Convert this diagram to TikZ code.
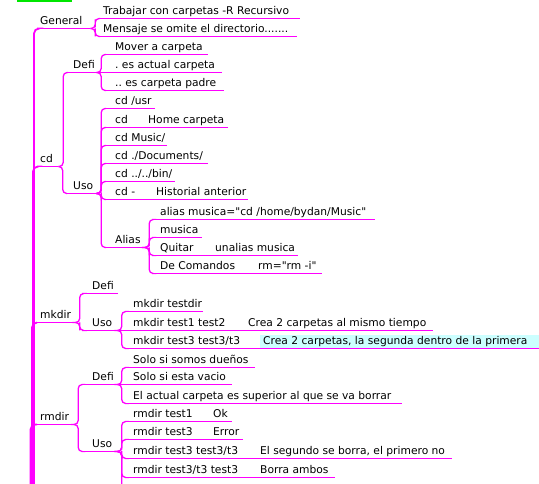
\documentclass[tikz,border=0pt]{standalone}
\usepackage{fontspec}
\setmainfont{DejaVu Sans}[Ligatures=TeXOff]
\usetikzlibrary{calc}

\definecolor{edgemag}{RGB}{255,0,255}
\definecolor{notecyan}{RGB}{204,255,255}
\definecolor{topgreen}{RGB}{0,230,0}

\tikzset{
  mmtext/.style={inner xsep=0pt, inner ysep=1.5pt, text height=8pt, text depth=2.5pt,
                 anchor=south west, font=\fontsize{10.7}{12}\selectfont},
  ulline/.style={draw=edgemag, line width=1.5pt},
  branch/.style={draw=edgemag, line width=1.3pt, rounded corners=4pt},
  trunk/.style={draw=edgemag, line width=1.8pt, rounded corners=5pt},
  highlight/.style={fill=notecyan},
}

% \mm[opts]{name}{x start}{x end}{underline y}{text indent}{text}
\newcommand\mm[7][]{%
  \node[mmtext,#1] (#2) at (#3,{-#5-0.5})
    {\makebox[\dimexpr #4pt-#3pt\relax][l]{\hspace*{#6pt}#7}};
  \draw[ulline] (#2.south west) -- (#2.south east);
}
% fork edge from a parent to a child on another row
\newcommand\link[2]{%
  \draw[branch] (#1.south east) -| ($(#1.south east)!.5!(#2.south west)$) |- (#2.south west);}
% straight edge between nodes on the same row
\newcommand\chain[2]{\draw[ulline] (#1.south east) -- (#2.south west);}
% edge from the central hub to a main topic
\newcommand\trunkto[2]{%
  \draw[trunk] (hub) -| ($(#1.south west)+(#2,0)$) -- (#1.south west);}

\begin{document}
\frenchspacing
\begin{tikzpicture}[x=1pt,y=1pt]
\useasboundingbox (0,0) rectangle (539,-484);
\clip (0,0) rectangle (539,-484);

% underline of the topic above
\fill[topgreen] (17,0) rectangle (72,-2.5);

% ---- General
\mm{general}{37}{90}{28}{3}{General}
\mm{gTrab}{100}{300}{18}{3}{Trabajar con carpetas -R Recursivo}
\mm{gMens}{100}{297}{36}{3}{Mensaje se omite el directorio.......}

% ---- cd
\mm{cd}{37}{58}{166}{3}{cd}
\mm{cdDefi}{68}{96}{72}{5}{Defi}
\mm{dMover}{106}{208}{54}{9}{Mover a carpeta}
\mm{dActual}{106}{222}{72}{9}{. es actual carpeta}
\mm{dPadre}{106}{224}{90}{9}{.. es carpeta padre}

\mm{cdUso}{67}{96}{193}{6}{Uso}
\mm{uUsr}{106}{155}{108}{9}{cd /usr}
\mm{uHome}{106}{141}{127}{9}{cd}
\mm{uHomeNote}{146}{228}{127}{2}{Home carpeta}
\mm{uMusic}{106}{167}{145}{9}{cd Music/}
\mm{uDocs}{106}{208}{163}{9}{cd ./Documents/}
\mm{uBin}{106}{175}{181}{9}{cd ../../bin/}
\mm{uBack}{106}{149}{199}{9}{cd -}
\mm{uBackNote}{153}{248}{199}{3}{Historial anterior}
\mm{uAlias}{106}{146}{247}{9}{Alias}
\mm{aDef}{152}{375}{219}{8}{alias musica="cd /home/bydan/Music"}
\mm{aRun}{152}{202}{237}{8}{musica}
\mm{aQuit}{152}{210}{255}{8}{Quitar}
\mm{aQuitNote}{213}{298}{255}{2}{unalias musica}
\mm{aCmd}{152}{253}{273}{8}{De Comandos}
\mm{aCmdNote}{256}{322}{273}{2}{rm="rm -i"}

% ---- mkdir
\mm{mkdir}{37}{77}{322}{3}{mkdir}
\mm{mkDefi}{82}{118}{293}{10}{Defi}
\mm{mkUso}{82}{118}{330}{10}{Uso}
\mm{mkA}{125}{203}{311}{8}{mkdir testdir}
\mm{mkB}{125}{243}{330}{8}{mkdir test1 test2}
\mm{mkBNote}{245}{433}{330}{3}{Crea 2 carpetas al mismo tiempo}
\mm{mkC}{125}{258}{348}{8}{mkdir test3 test3/t3}
\mm[highlight]{mkCNote}{260}{539}{348}{3}{Crea 2 carpetas, la segunda dentro de la primera}

% ---- rmdir
\mm{rmdir}{37}{74}{424}{3}{rmdir}
\mm{rmDefi}{82}{118}{384}{10}{Defi}
\mm{rmOwn}{125}{255}{367}{8}{Solo si somos dueños}
\mm{rmEmpty}{125}{232}{384}{8}{Solo si esta vacio}
\mm{rmUpper}{125}{402}{403}{8}{El actual carpeta es superior al que se va borrar}
\mm{rmUso}{82}{118}{451}{10}{Uso}
\mm{rmA}{125}{208}{421}{8}{rmdir test1}
\mm{rmANote}{210}{232}{421}{3}{Ok}
\mm{rmB}{125}{208}{439}{8}{rmdir test3}
\mm{rmBNote}{210}{243}{439}{3}{Error}
\mm{rmC}{125}{255}{458}{8}{rmdir test3 test3/t3}
\mm{rmCNote}{257}{452}{458}{3}{El segundo se borra, el primero no}
\mm{rmD}{125}{255}{477}{8}{rmdir test3/t3 test3}
\mm{rmDNote}{257}{335}{477}{3}{Borra ambos}
\coordinate (rmMore) at (125,-500);

% ---- hub and trunk edges
\coordinate (hub) at (25,-620);
\trunkto{general}{-3}
\trunkto{cd}{-4}
\trunkto{mkdir}{-5}
\trunkto{rmdir}{-6.5}

% ---- branch edges
\link{general}{gTrab}
\link{general}{gMens}

\link{cd}{cdDefi}
\link{cd}{cdUso}
\link{cdDefi}{dMover}
\chain{cdDefi}{dActual}
\link{cdDefi}{dPadre}
\link{cdUso}{uUsr}
\link{cdUso}{uHome}
\link{cdUso}{uMusic}
\link{cdUso}{uDocs}
\link{cdUso}{uBin}
\link{cdUso}{uBack}
\link{cdUso}{uAlias}
\chain{uHome}{uHomeNote}
\chain{uBack}{uBackNote}
\link{uAlias}{aDef}
\link{uAlias}{aRun}
\link{uAlias}{aQuit}
\link{uAlias}{aCmd}
\chain{aQuit}{aQuitNote}
\chain{aCmd}{aCmdNote}

\link{mkdir}{mkDefi}
\link{mkdir}{mkUso}
\link{mkUso}{mkA}
\chain{mkUso}{mkB}
\link{mkUso}{mkC}
\chain{mkB}{mkBNote}
\chain{mkC}{mkCNote}

\link{rmdir}{rmDefi}
\link{rmdir}{rmUso}
\link{rmDefi}{rmOwn}
\chain{rmDefi}{rmEmpty}
\link{rmDefi}{rmUpper}
\link{rmUso}{rmA}
\link{rmUso}{rmB}
\link{rmUso}{rmC}
\link{rmUso}{rmD}
\draw[branch] (rmUso.south east) -| ($(rmUso.south east)!.5!(rmMore)$) |- (rmMore);
\chain{rmA}{rmANote}
\chain{rmB}{rmBNote}
\chain{rmC}{rmCNote}
\chain{rmD}{rmDNote}
\end{tikzpicture}
\end{document}
